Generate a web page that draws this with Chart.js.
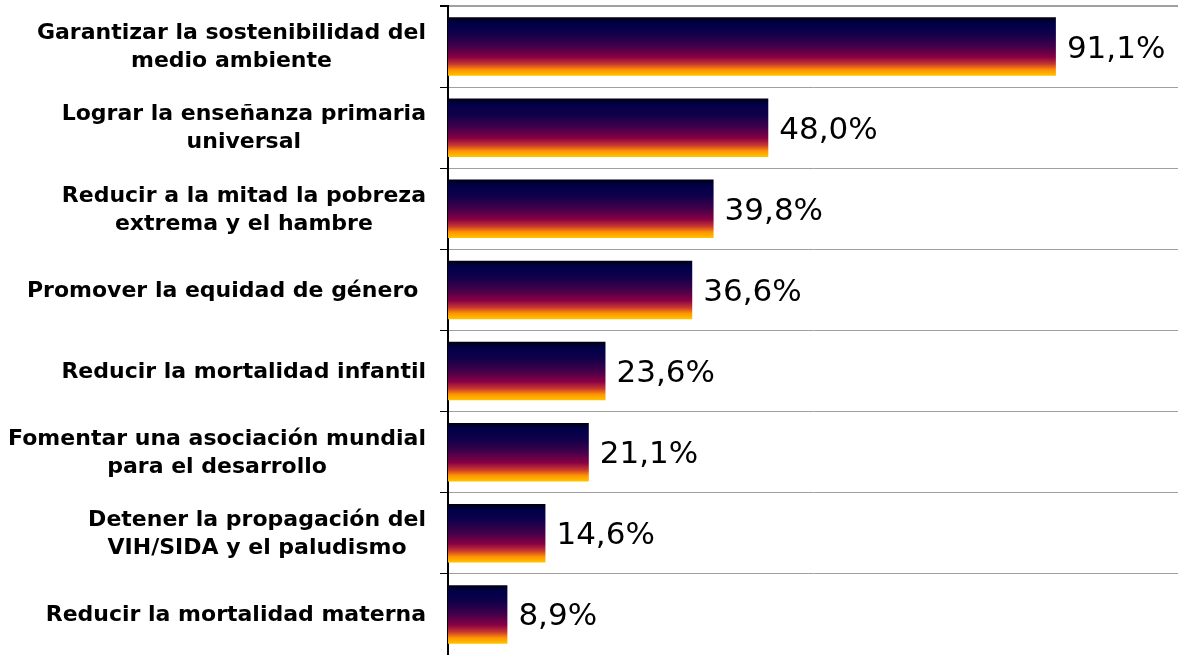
<!DOCTYPE html>
<html>
<head>
<meta charset="utf-8">
<script src="https://cdn.jsdelivr.net/npm/chart.js@4.4.1/dist/chart.umd.min.js"></script>
<style>
    html, body { margin: 0; padding: 0; background: #fff; }
    #wrap { width: 1178px; height: 655px; position: relative; }
</style>
</head>
<body>
<div id="wrap"><canvas id="goalsChart"></canvas></div>
<script>
const categories = [
    ['Garantizar la sostenibilidad del', 'medio ambiente'],
    ['Lograr la enseñanza primaria', 'universal'],
    ['Reducir a la mitad la pobreza', 'extrema y el hambre'],
    ['Promover la equidad de género '],
    ['Reducir la mortalidad infantil'],
    ['Fomentar una asociación mundial', 'para el desarrollo'],
    ['Detener la propagación del', 'VIH/SIDA y el paludismo'],
    ['Reducir la mortalidad materna']
];
const values = [91.1, 48.0, 39.8, 36.6, 23.6, 21.1, 14.6, 8.9];
const xMax = 109.4;

const barPct = 0.72;
const labelFont = 'bold 22px "DejaVu Sans"';
const lineGap = 28;

function formatValue(v) {
    return v.toFixed(1).replace('.', ',') + '%';
}

// bars get a vertical gradient each, from the y scale position of the category
function barGradient(context) {
    const chart = context.chart;
    if (!chart.chartArea || context.dataIndex === undefined) return '#300040';
    const yScale = chart.scales.y;
    const band = yScale.height / categories.length;
    const half = band * barPct / 2;
    const cy = yScale.getPixelForValue(context.dataIndex);
    const g = chart.ctx.createLinearGradient(0, cy - half, 0, cy + half);
    g.addColorStop(0, '#000010');
    g.addColorStop(0.1, '#000048');
    g.addColorStop(0.28, '#10004a');
    g.addColorStop(0.5, '#44004a');
    g.addColorStop(0.68, '#880044');
    g.addColorStop(0.8, '#c83830');
    g.addColorStop(0.9, '#ff9400');
    g.addColorStop(1, '#ffc400');
    return g;
}

const categoryLabels = {
    id: 'categoryLabels',
    afterDraw(chart) {
        const ctx = chart.ctx;
        const yScale = chart.scales.y;
        const rightEdge = yScale.right - 22;
        ctx.save();
        ctx.font = labelFont;
        ctx.fillStyle = '#000';
        ctx.textAlign = 'center';
        ctx.textBaseline = 'middle';
        categories.forEach((lines, i) => {
            const widest = Math.max(...lines.map(l => ctx.measureText(l).width));
            const cx = rightEdge - widest / 2;
            const cy = yScale.getPixelForValue(i) + 1;
            lines.forEach((line, j) => {
                ctx.fillText(line, cx, cy + (j - (lines.length - 1) / 2) * lineGap);
            });
        });
        ctx.restore();
    }
};

const valueLabels = {
    id: 'valueLabels',
    afterDatasetsDraw(chart) {
        const ctx = chart.ctx;
        const meta = chart.getDatasetMeta(0);
        ctx.save();
        ctx.font = '31px "DejaVu Sans"';
        ctx.fillStyle = '#000';
        ctx.textAlign = 'left';
        ctx.textBaseline = 'middle';
        meta.data.forEach((bar, i) => {
            ctx.fillText(formatValue(values[i]), bar.x + 11, bar.y + 3);
        });
        ctx.restore();
    }
};

const ctx = document.getElementById('goalsChart').getContext('2d');
new Chart(ctx, {
    type: 'bar',
    data: {
        labels: categories.map(c => c.join(' ')),
        datasets: [{
            data: values,
            backgroundColor: barGradient,
            borderWidth: 0,
            categoryPercentage: 1,
            barPercentage: barPct
        }]
    },
    options: {
        indexAxis: 'y',
        responsive: true,
        maintainAspectRatio: false,
        animation: false,
        layout: { padding: { top: 6, right: 0, bottom: 0, left: 0 } },
        plugins: {
            legend: { display: false },
            tooltip: { enabled: false }
        },
        scales: {
            x: {
                display: false,
                min: 0,
                max: xMax
            },
            y: {
                afterFit(scale) {
                    scale.width = 448;
                },
                ticks: { display: false },
                grid: {
                    color: '#a0a0a0',
                    lineWidth: c => (c.index === 0 ? 2 : 1),
                    tickColor: '#000',
                    tickLength: 8,
                    drawTicks: true
                },
                border: { color: '#000', width: 2 }
            }
        }
    },
    plugins: [categoryLabels, valueLabels]
});
</script>
</body>
</html>
